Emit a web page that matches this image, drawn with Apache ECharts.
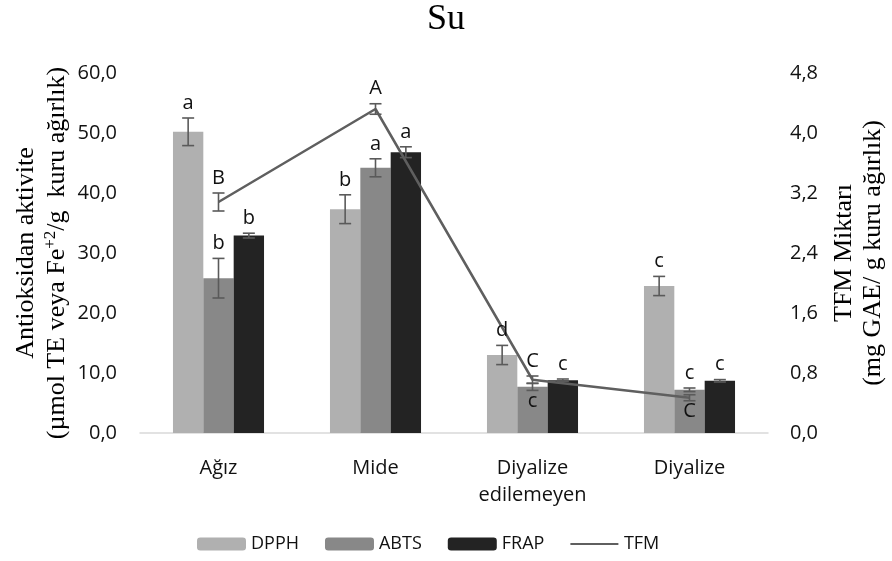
<!DOCTYPE html>
<html><head><meta charset="utf-8">
<script src="https://cdn.jsdelivr.net/npm/echarts@6/dist/echarts.min.js"></script>
<style>html,body{margin:0;padding:0;background:#fff}#c{width:892px;height:561px}</style>
</head><body><div id="c"></div>
<script>
const categories = ['Ağız', 'Mide', 'Diyalize\nedilemeyen', 'Diyalize'];
const dpph = [50.2, 37.3, 13.0, 24.5];
const dpphErr = [2.3, 2.4, 1.6, 1.6];
const dpphLetters = ['a', 'b', 'd', 'c'];
const abts = [25.8, 44.2, 7.7, 7.2];
const abtsErr = [3.3, 1.5, 0.6, 0.3];
const abtsLetters = ['b', 'a', 'c', 'c'];
const abtsLetterPos = ['above', 'above', 'below', 'above'];
const frap = [32.9, 46.8, 8.8, 8.7];
const frapErr = [0.4, 0.9, 0.2, 0.2];
const frapLetters = ['b', 'a', 'c', 'c'];
const tfm = [3.08, 4.32, 0.71, 0.47];
const tfmErr = [0.12, 0.07, 0.05, 0.04];
const tfmLetters = ['B', 'A', 'C', 'C'];
const tfmLetterPos = ['above', 'above', 'above', 'below'];
const leftTicks = {min: 0, max: 60, interval: 10};
const rightTicks = {min: 0, max: 4.8, interval: 0.8};

const barColors = ['#b0b0b0', '#888888', '#232323'];
const errColor = '#5a5a5a';
const tickFont = 'Open Sans';
const serif = 'Liberation Serif';

function errData(vals, errs, letters, pos, slot) {
  return vals.map((v, i) => [i, v, errs[i], letters[i], pos ? pos[i] : 'above', slot]);
}

function renderErr(params, api) {
  const cat = api.value(0), v = api.value(1), e = api.value(2);
  const item = this.items[params.dataIndex];
  const slot = item[5];
  const band = api.size([1, 0])[0];
  const bw = band * 0.58 / 3;
  const xOff = slot === null ? 0 : (slot - 1) * bw;
  const c = api.coord([cat, v]);
  const x = c[0] + xOff;
  const yt = api.coord([cat, v + e])[1];
  const yb = api.coord([cat, v - e])[1];
  const cap = 6;
  const st = {stroke: errColor, lineWidth: 1.6};
  const children = [
    {type: 'line', shape: {x1: x, y1: yt, x2: x, y2: yb}, style: st},
    {type: 'line', shape: {x1: x - cap, y1: yt, x2: x + cap, y2: yt}, style: st},
    {type: 'line', shape: {x1: x - cap, y1: yb, x2: x + cap, y2: yb}, style: st}
  ];
  const above = item[4] === 'above';
  children.push({
    type: 'text',
    style: {
      text: item[3], x: x, y: above ? yt - 5 : yb + 1,
      align: 'center', verticalAlign: above ? 'bottom' : 'top',
      font: '20px "Open Sans"', fill: '#111'
    }
  });
  return {type: 'group', children: children};
}

function errSeries(name, data, yIdx) {
  return {
    name: name, type: 'custom', yAxisIndex: yIdx, z: 10,
    data: data, encode: {x: 0, y: 1},
    renderItem: renderErr.bind({items: data}),
    silent: true
  };
}

const chart = echarts.init(document.getElementById('c'));
chart.setOption({
  animation: false,
  title: {
    text: 'Su', left: 'center', top: 2, padding: 0,
    textStyle: {fontFamily: serif, fontSize: 36, fontWeight: 'normal', color: '#000'}
  },
  grid: {left: 140, right: 124, top: 73, bottom: 128, containLabel: false, outerBoundsMode: 'none'},
  legend: {
    top: 535, left: 197, itemWidth: 49, itemHeight: 13, itemGap: 26, padding: 0,
    data: ['DPPH', 'ABTS', 'FRAP',
      {name: 'TFM', icon: 'path://M0,0 L0.001,0 Z M0,5.5 L48,5.5 L48,7.5 L0,7.5 Z M48,13 L47.999,13 Z'}],
    textStyle: {fontFamily: tickFont, fontSize: 18, color: '#111', padding: [0, 0, 0, 0]}
  },
  xAxis: {
    type: 'category', data: categories,
    axisLine: {lineStyle: {color: '#d9d9d9', width: 1.5}},
    axisTick: {show: false},
    axisLabel: {fontFamily: tickFont, fontSize: 20, color: '#111', margin: 22, lineHeight: 27}
  },
  yAxis: [
    {
      type: 'value', min: leftTicks.min, max: leftTicks.max, interval: leftTicks.interval,
      splitLine: {show: false}, axisLine: {show: false}, axisTick: {show: false},
      axisLabel: {fontFamily: tickFont, fontSize: 20, color: '#111', margin: 23,
        formatter: v => v.toFixed(1).replace('.', ',')},
      name: '{a|Antioksidan aktivite}\n{a|(µmol TE veya Fe}{s|+2}{a|/g  kuru ağırlık)}',
      nameLocation: 'middle', nameRotate: 90, nameGap: 67, nameMoveOverlap: false,
      nameTextStyle: {
        rich: {
          a: {fontFamily: serif, fontSize: 26, color: '#000', lineHeight: 31},
          s: {fontFamily: serif, fontSize: 17, color: '#000', verticalAlign: 'top', lineHeight: 31, padding: [0, 0, 9, 0]}
        }
      }
    },
    {
      type: 'value', min: rightTicks.min, max: rightTicks.max, interval: rightTicks.interval,
      splitLine: {show: false}, axisLine: {show: false}, axisTick: {show: false},
      axisLabel: {fontFamily: tickFont, fontSize: 20, color: '#111', margin: 22,
        formatter: v => v.toFixed(1).replace('.', ',')},
      name: 'TFM Miktarı\n(mg GAE/ g kuru ağırlık)',
      nameLocation: 'middle', nameRotate: 90, nameGap: 62,
      nameTextStyle: {fontFamily: serif, fontSize: 26, color: '#000', lineHeight: 29}
    }
  ],
  series: [
    {name: 'DPPH', type: 'bar', data: dpph, barGap: '0%', barCategoryGap: '42%', itemStyle: {color: barColors[0]}},
    {name: 'ABTS', type: 'bar', data: abts, itemStyle: {color: barColors[1]}},
    {name: 'FRAP', type: 'bar', data: frap, itemStyle: {color: barColors[2]}},
    {name: 'TFM', type: 'line', yAxisIndex: 1, data: tfm, symbol: 'none', z: 5,
      lineStyle: {color: '#5f5f5f', width: 2.5}, itemStyle: {color: '#5f5f5f'}},
    errSeries('eDPPH', errData(dpph, dpphErr, dpphLetters, null, 0), 0),
    errSeries('eABTS', errData(abts, abtsErr, abtsLetters, abtsLetterPos, 1), 0),
    errSeries('eFRAP', errData(frap, frapErr, frapLetters, null, 2), 0),
    errSeries('eTFM', errData(tfm, tfmErr, tfmLetters, tfmLetterPos, null), 1)
  ]
});
</script></body></html>
